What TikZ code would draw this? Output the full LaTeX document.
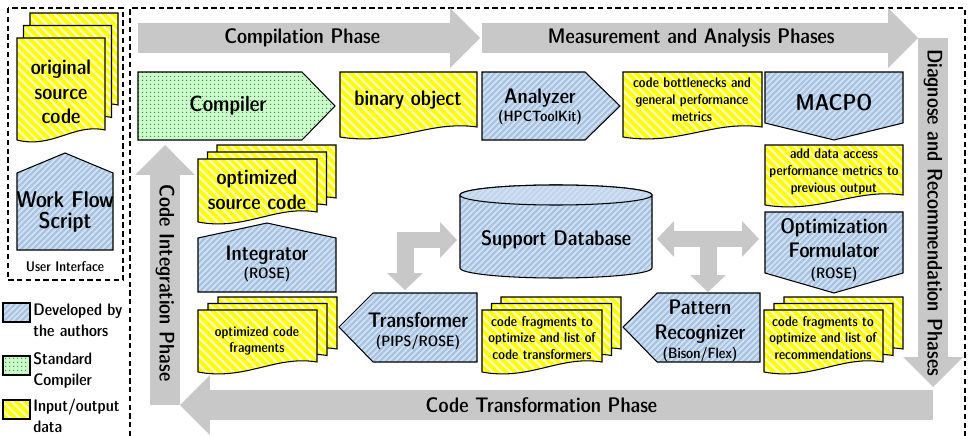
\documentclass[tikz,border=0pt]{standalone}
\usepackage{tikz}
\usetikzlibrary{arrows.meta,patterns.meta}

\definecolor{blueb}{RGB}{168,196,226}
\definecolor{bluel}{RGB}{210,225,242}
\definecolor{yelb}{RGB}{255,255,0}
\definecolor{yell}{RGB}{255,255,176}
\definecolor{greenb}{RGB}{204,250,204}
\definecolor{greend}{RGB}{20,150,20}
\definecolor{phasegray}{RGB}{200,200,200}

\newcommand{\bigfont}{\sffamily\fontseries{sbc}\fontsize{12}{14}\selectfont}
\newcommand{\wfsfont}{\sffamily\fontseries{sbc}\fontsize{13}{12}\selectfont}
\newcommand{\smallfont}{\sffamily\fontseries{sbc}\fontsize{8}{9.6}\selectfont}
\newcommand{\subfont}{\sffamily\fontsize{8.5}{10}\selectfont}
\newcommand{\phasefont}{\sffamily\fontseries{sbc}\fontsize{12}{13}\selectfont}
\newcommand{\legfont}{\sffamily\fontseries{sbc}\fontsize{9.5}{12}\selectfont}

\tikzdeclarepattern{
  name=bluelines,
  type=uncolored,
  bottom left={(0pt,0pt)},
  top right={(4pt,2.4pt)},
  tile size={(4pt,2.4pt)},
  tile transformation={rotate=45},
  code={\fill (0pt,0pt) rectangle (4pt,1.1pt);}
}
\tikzdeclarepattern{
  name=yellines,
  type=uncolored,
  bottom left={(0pt,0pt)},
  top right={(4pt,3.6pt)},
  tile size={(4pt,3.6pt)},
  tile transformation={rotate=-45},
  code={\fill (0pt,0pt) rectangle (4pt,1.6pt);}
}
\tikzdeclarepattern{
  name=greendots,
  type=uncolored,
  bottom left={(0pt,0pt)},
  top right={(2.3pt,2.3pt)},
  tile size={(2.3pt,2.3pt)},
  code={\fill (1.15pt,1.15pt) circle (0.42pt);}
}

\tikzset{
  bluebox/.style={draw, line width=0.6pt, preaction={fill=blueb}, pattern=bluelines, pattern color=bluel},
  yelbox/.style={draw, line width=0.6pt, preaction={fill=yelb}, pattern=yellines, pattern color=yell},
  greenbox/.style={draw, line width=0.6pt, preaction={fill=greenb}, pattern=greendots, pattern color=greend},
  bigtxt/.style={font=\bigfont, align=center, inner sep=0pt},
  smalltxt/.style={font=\smallfont, align=center, inner sep=0pt},
  phasetxt/.style={font=\phasefont, inner sep=0pt},
  legtxt/.style={font=\legfont, align=left, inner sep=0pt},
  bigtip/.tip={Triangle[width=1.2cm,length=0.6cm,line width=0pt]},
  smalltip/.tip={Triangle[width=0.72cm,length=0.34cm,line width=0pt]},
  phase/.style={draw=phasegray, line width=0.6cm, -bigtip},
  dbarrow/.style={draw=phasegray, line width=0.34cm, line join=miter},
  frame/.style={draw, line width=0.6pt, dash pattern=on 3pt off 2pt}
}

% page with a wavy lower edge
\newcommand{\docpage}[4]{%
  \path[yelbox] (#1,#2) -- (#3,#2) -- (#3,{(#4)-10})
    .. controls ({(#3)-0.35*((#3)-(#1))},{(#4)-17}) and ({(#1)+0.4*((#3)-(#1))},{(#4)+9}) .. (#1,#4) -- cycle;}
% three pages, the back ones shifted by (dx,-dy)
\newcommand{\docstack}[6]{%
  \docpage{#1+2*#5}{#2-2*#6}{#3+2*#5}{#4-2*#6}
  \docpage{#1+#5}{#2-#6}{#3+#5}{#4-#6}
  \docpage{#1}{#2}{#3}{#4}}

\begin{document}
\begin{tikzpicture}[x=0.02cm, y=-0.02cm]
	\useasboundingbox (0,0) rectangle (968,436);

	% frames
	\draw[frame] (8,8) rectangle (123,280);
	\draw[frame] (130,445) -- (130,8) -- (965,8) -- (965,445);

	% phase arrows
	\coordinate (cA) at (138,38);
	\coordinate (cB) at (480,38);
	\coordinate (mA) at (482,38);
	\coordinate (mB) at (918,38);
	\coordinate (dA) at (933,38);
	\coordinate (dB) at (933,387);
	\coordinate (tA) at (933,405);
	\coordinate (tB) at (180,405);
	\coordinate (iA) at (165,405);
	\coordinate (iB) at (165,145);
	\draw[phase] (cA) -- (cB) node[pos=0.48, phasetxt] (cphase) {Compilation Phase};
	\draw[phase] (mA) -- (mB) node[pos=0.48, phasetxt] (mphase) {Measurement and Analysis Phases};
	\draw[phase] (dA) -- (dB) node[midway, phasetxt, rotate=-90] (dphase) {Diagnose and Recommendation Phases};
	\draw[phase] (tA) -- (tB) node[pos=0.52, phasetxt] (tphase) {Code Transformation Phase};
	\draw[phase] (iA) -- (iB) node[pos=0.47, phasetxt, rotate=-90] (iphase) {Code Integration Phase};

	% database links
	\coordinate (lA) at (405,290);
	\coordinate (lB) at (405,240);
	\coordinate (lC) at (457,240);
	\coordinate (rA) at (657,239);
	\coordinate (rB) at (759,239);
	\coordinate (rM) at (708,239);
	\coordinate (rD) at (708,292);
	\draw[dbarrow, smalltip-smalltip] (lA) -- (lB) -- (lC);
	\draw[dbarrow, smalltip-smalltip] (rA) -- (rB);
	\draw[dbarrow, -smalltip] (rM) -- (rD);

	% data pages
	\docstack{17}{38}{105}{140}{6.5}{12.5}
	\docstack{198}{159}{317}{222}{9.5}{7}
	\docstack{198}{310}{317}{372}{10}{6.5}
	\docstack{482}{310}{602}{372}{9.5}{6.5}
	\docstack{764}{310}{883}{372}{10}{6.5}
	\docpage{340}{72}{477}{137}
	\docpage{623}{72}{762}{137}
	\docpage{765}{145}{903}{205}

	% tools
	\path[bluebox] (17,250) -- (17,173) -- (65,153) -- (113,173) -- (113,250) -- cycle;
	\path[greenbox] (138,72) -- (302,72) -- (335,106) -- (302,140) -- (138,140) -- cycle;
	\path[bluebox] (482,72) -- (585,72) -- (620,106) -- (585,140) -- (482,140) -- cycle;
	\path[bluebox] (765,72) -- (903,72) -- (903,123) -- (834,140) -- (765,123) -- cycle;
	\path[bluebox] (765,212) -- (903,212) -- (903,273) -- (834,293) -- (765,273) -- cycle;
	\path[bluebox] (760,293) -- (760,362) -- (657,362) -- (623,327) -- (657,293) -- cycle;
	\path[bluebox] (477,293) -- (477,362) -- (373,362) -- (339,327) -- (373,293) -- cycle;
	\path[bluebox] (198,292) -- (198,238) -- (267,223) -- (336,238) -- (336,292) -- cycle;
	\path[bluebox] (460,195) -- (460,268) arc[start angle=180, end angle=0, x radius=96, y radius=10]
		-- (652,195) arc[start angle=360, end angle=180, x radius=96, y radius=10] -- cycle;
	\path[draw, line width=0.6pt, preaction={fill=bluel!60!blueb}, pattern=bluelines, pattern color=bluel]
		(556,195) ellipse [x radius=96, y radius=10];

	% legend
	\path[bluebox] (3,303) rectangle (30,322);
	\path[greenbox] (3,356) rectangle (30,375);
	\path[yelbox] (3,400) rectangle (30,419);
	\node[legtxt, anchor=west] (legdev) at (33,320) {Developed by\\the authors};
	\node[legtxt, anchor=west] (legstd) at (33,370) {Standard\\Compiler};
	\node[legtxt, anchor=west] (legio) at (33,416) {Input/output\\data};

	% texts
	\node[font=\sffamily\fontseries{sbc}\fontsize{8}{9}\selectfont, inner sep=0pt] (ui) at (65,267) {User Interface};
	\node[bigtxt] (orig) at (61,92) {original\\source\\code};
	\node[bigtxt, font=\wfsfont] (wfs) at (65,212) {Work Flow\\Script};
	\node[bigtxt, font=\sffamily\fontseries{sbc}\fontsize{12.5}{14}\selectfont] (compiler) at (228,106) {Compiler};
	\node[bigtxt] (binobj) at (408,100) {binary object};
	\node[bigtxt] (analyzer) at (540,107) {Analyzer\\[-4pt]{\subfont (HPCToolKit)}};
	\node[smalltxt] (bottlenecks) at (692,100) {code bottlenecks and\\general performance\\metrics};
	\node[bigtxt, font=\sffamily\fontseries{sbc}\fontsize{13}{14}\selectfont] (macpo) at (834,103) {MACPO};
	\node[smalltxt] (adddata) at (834,172) {add data access\\performance metrics to\\previous output};
	\node[bigtxt] (optform) at (834,250) {Optimization\\Formulator\\[-2pt]{\subfont (ROSE)}};
	\node[smalltxt] (recs) at (823,338) {code fragments to\\optimize and list of\\recommendations};
	\node[bigtxt] (patrec) at (700,331) {Pattern\\Recognizer\\[-3pt]{\subfont (Bison/Flex)}};
	\node[smalltxt] (codetrans) at (542,338) {code fragments to\\optimize and list of\\code transformers};
	\node[bigtxt] (transformer) at (418,331) {Transformer\\[-3pt]{\subfont (PIPS/ROSE)}};
	\node[smalltxt] (optfrag) at (257,341) {optimized code\\fragments};
	\node[bigtxt] (integrator) at (267,264) {Integrator\\[-4pt]{\subfont (ROSE)}};
	\node[bigtxt] (optsrc) at (257,190) {optimized\\source code};
	\node[bigtxt] (supdb) at (556,240) {Support Database};
\end{tikzpicture}
\end{document}
